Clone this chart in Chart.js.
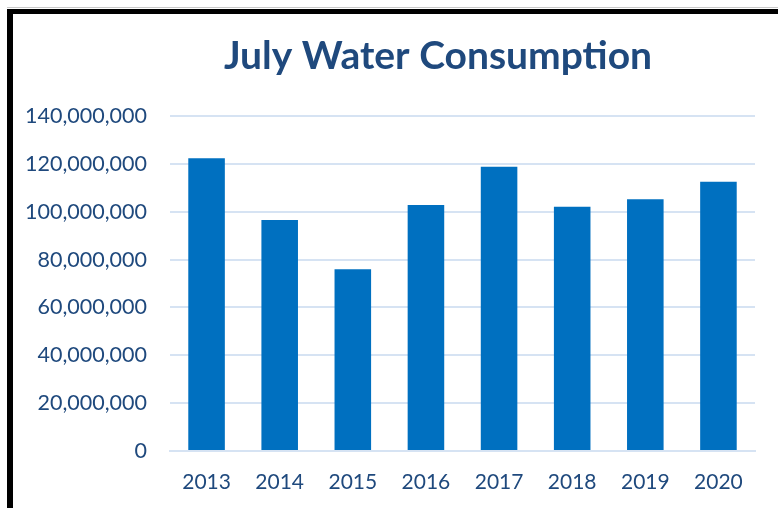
<!DOCTYPE html>
<html><head><meta charset="utf-8">
<script src="https://cdn.jsdelivr.net/npm/chart.js@4"></script>
<style>
html,body{margin:0;padding:0;background:#fff;}
#wrap{position:relative;width:778px;height:508px;}
#frame{position:absolute;left:7px;top:9px;width:800px;height:520px;border-left:6px solid #000;border-top:5px solid #000;box-sizing:border-box;pointer-events:none;}
#topline{position:absolute;left:7px;top:7px;width:771px;height:1px;background:#c8c8c8;}
</style></head>
<body>
<div id="wrap">
<canvas id="c" width="778" height="508"></canvas>
<div id="topline"></div>
<div id="frame"></div>
</div>
<script>
const categories = ['2013','2014','2015','2016','2017','2018','2019','2020'];
const consumption = [122300000, 96500000, 76000000, 102800000, 118800000, 102100000, 105200000, 112500000];
const titleText = 'July Water Consumption';

const titlePlugin = {
  id: 'customTitle',
  afterDraw(chart) {
    const ctx = chart.ctx;
    ctx.save();
    ctx.font = 'bold 39px Lato';
    ctx.fillStyle = '#1F497D';
    ctx.textAlign = 'center';
    ctx.textBaseline = 'alphabetic';
    ctx.fillText(titleText, 438, 69);
    ctx.restore();
  }
};

new Chart(document.getElementById('c'), {
  type: 'bar',
  data: {
    labels: categories,
    datasets: [{
      data: consumption,
      backgroundColor: '#0070C0',
      borderWidth: 0,
      categoryPercentage: 1.0,
      barPercentage: 0.5
    }]
  },
  plugins: [titlePlugin],
  options: {
    responsive: false,
    animation: false,
    layout: { padding: { left: 0, right: 23, top: 116, bottom: 0 } },
    plugins: {
      legend: { display: false },
      tooltip: { enabled: false },
      title: { display: false }
    },
    scales: {
      x: {
        afterFit: (s) => { s.height = 57; },
        grid: { display: false, drawTicks: false },
        border: { display: true, color: '#D6E3F3', width: 2 },
        ticks: { color: '#1F497D', font: { family: 'Lato', size: 21 }, padding: 19 }
      },
      y: {
        min: 0, max: 140000000,
        afterFit: (s) => { s.width = 170; },
        grid: { color: '#D6E3F3', lineWidth: 2, drawTicks: false },
        border: { display: false },
        ticks: {
          stepSize: 20000000,
          color: '#1F497D',
          font: { family: 'Lato', size: 21.5 },
          padding: 23,
          callback: (v) => v.toLocaleString('en-US')
        }
      }
    }
  }
});
</script>
</body></html>
